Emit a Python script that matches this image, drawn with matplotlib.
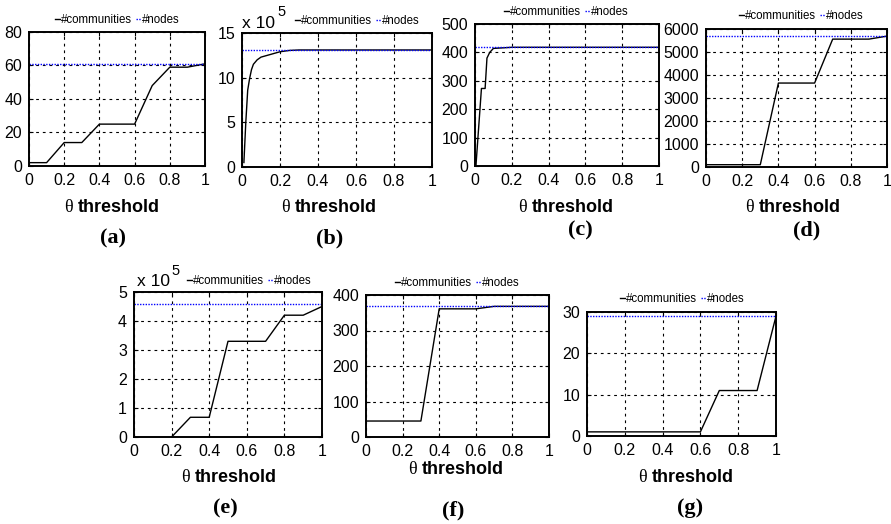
import numpy as np
import matplotlib
matplotlib.use('Agg')
import matplotlib.pyplot as plt

W, H = 891, 524

# thresholds shared by most panels
theta = [0.0, 0.1, 0.2, 0.3, 0.4, 0.5, 0.6, 0.7, 0.8, 0.9, 1.0]

# (a)
a_comm = [2, 2, 14, 14, 25, 25, 25, 48, 59, 59, 61]
a_nodes = 61
# (b) values in units of 10^5
b_theta = [0.01, 0.02, 0.03, 0.04, 0.05, 0.06, 0.08, 0.1, 0.15, 0.2, 0.25,
           0.3, 0.4, 0.5, 0.6, 0.7, 0.8, 0.9, 1.0]
b_comm = [0.5, 5.0, 8.6, 9.9, 10.9, 11.5, 12.0, 12.3, 12.6, 12.9, 13.05,
          13.1, 13.1, 13.1, 13.1, 13.1, 13.1, 13.1, 13.1]
b_nodes = 13.1
# (c)
c_theta = [0.005, 0.035, 0.055, 0.065, 0.08, 0.1, 0.15, 0.2, 0.3, 0.4,
           0.5, 0.6, 0.7, 0.8, 0.9, 1.0]
c_comm = [0, 273, 273, 380, 400, 414, 416, 418, 418, 418, 418, 418, 418,
          418, 418, 418]
c_nodes = 418
# (d)
d_comm = [100, 100, 100, 100, 3650, 3650, 3650, 5560, 5560, 5560, 5690]
d_nodes = 5690
# (e) values in units of 10^5
e_theta = [0.2, 0.3, 0.4, 0.5, 0.6, 0.7, 0.8, 0.9, 1.0]
e_comm = [0, 0.68, 0.68, 3.3, 3.3, 3.3, 4.2, 4.2, 4.5]
e_nodes = 4.58
# (f)
f_comm = [45, 45, 45, 45, 361, 361, 361, 368, 368, 368, 368]
f_nodes = 368
# (g)
g_comm = [1, 1, 1, 1, 1, 1, 1, 11, 11, 11, 29]
g_nodes = 29

x_ticks = [0, 0.2, 0.4, 0.6, 0.8, 1]
x_ticklabels = ['0', '0.2', '0.4', '0.6', '0.8', '1']

SANS = 'Liberation Sans'
SERIF = 'Liberation Serif'

fig = plt.figure(figsize=(W / 100, H / 100), dpi=100)


def px_axes(left, top, right, bottom):
    return fig.add_axes([left / W, 1 - bottom / H, (right - left) / W, (bottom - top) / H])


def ftext(x, y, s, **kw):
    # text placed in pixel coords (origin top-left)
    return fig.text(x / W, 1 - y / H, s, **kw)


def panel(rect, x, comm, nodes, yticks, legend_xy, label, label_xy, xlabel_x, xlabel_y,
          multiplier=None):
    ax = px_axes(*rect)
    ax.plot(x, comm, color='black', lw=1.0, label='#communities')
    ax.plot(theta, np.full(len(theta), nodes), color='#0000ff', lw=1.0,
            linestyle=(0, (1, 1)), label='#nodes')
    ax.set_xlim(0, 1)
    ax.set_ylim(yticks[0], yticks[-1])
    ax.set_xticks(x_ticks)
    ax.set_xticklabels(x_ticklabels)
    ax.set_yticks(yticks)
    ax.set_yticklabels([str(t) for t in yticks])
    ax.grid(True, color='black', linestyle=(0, (2.5, 3.5)), lw=0.8)
    for s in ax.spines.values():
        s.set_linewidth(1.4)
    ax.tick_params(direction='in', length=3, width=0.8, top=True, right=True,
                   labelsize=11.5, pad=5)
    for t in ax.get_xticklabels() + ax.get_yticklabels():
        t.set_fontfamily(SANS)

    ax.legend(loc='center', bbox_to_anchor=(legend_xy[0] / W, 1 - legend_xy[1] / H),
              bbox_transform=fig.transFigure, ncol=2, frameon=False,
              prop={'family': SANS, 'size': 8.3}, handlelength=0.45,
              handletextpad=0.05, columnspacing=0.35, borderpad=0, borderaxespad=0)

    # x label: serif theta + bold sans "threshold"
    ftext(xlabel_x - 5, xlabel_y, '\u03b8', family=SERIF, size=13, ha='right', va='center')
    ftext(xlabel_x, xlabel_y, 'threshold', family=SANS, weight='bold', size=13,
          ha='left', va='center')
    ftext(label_xy[0], label_xy[1], label, family=SERIF, weight='bold', size=16,
          ha='center', va='center')
    if multiplier is not None:
        (mx, my), (ex, ey) = multiplier
        ftext(mx, my, 'x 10', family=SANS, size=12.5, ha='left', va='center')
        ftext(ex, ey, '5', family=SANS, size=10.5, ha='left', va='center')
    return ax


panel((29, 32, 205, 166), theta, a_comm, a_nodes, [0, 20, 40, 60, 80],
      (117, 20), '(a)', (113, 238), 78, 207)
panel((242, 33, 432, 167), b_theta, b_comm, b_nodes, [0, 5, 10, 15],
      (357, 21), '(b)', (330, 238), 295, 208, multiplier=((242, 23), (277, 12)))
panel((475, 24, 659, 166), c_theta, c_comm, c_nodes, [0, 100, 200, 300, 400, 500],
      (566, 12), '(c)', (580, 230), 532, 207)
panel((706, 29, 887, 167), theta, d_comm, d_nodes, [0, 1000, 2000, 3000, 4000, 5000, 6000],
      (801, 16), '(d)', (807, 230), 759, 208)
panel((134, 292, 322, 437), e_theta, e_comm, e_nodes, [0, 1, 2, 3, 4, 5],
      (249, 281), '(e)', (225, 508), 195, 477, multiplier=((137, 282), (171, 271)))
panel((366, 295, 549, 437), theta, f_comm, f_nodes, [0, 100, 200, 300, 400],
      (457, 283), '(f)', (453, 510), 422, 469)
panel((587, 312, 776, 436), theta, g_comm, g_nodes, [0, 10, 20, 30],
      (682, 299), '(g)', (690, 508), 652, 478)

fig.savefig('out.png', dpi=100)
